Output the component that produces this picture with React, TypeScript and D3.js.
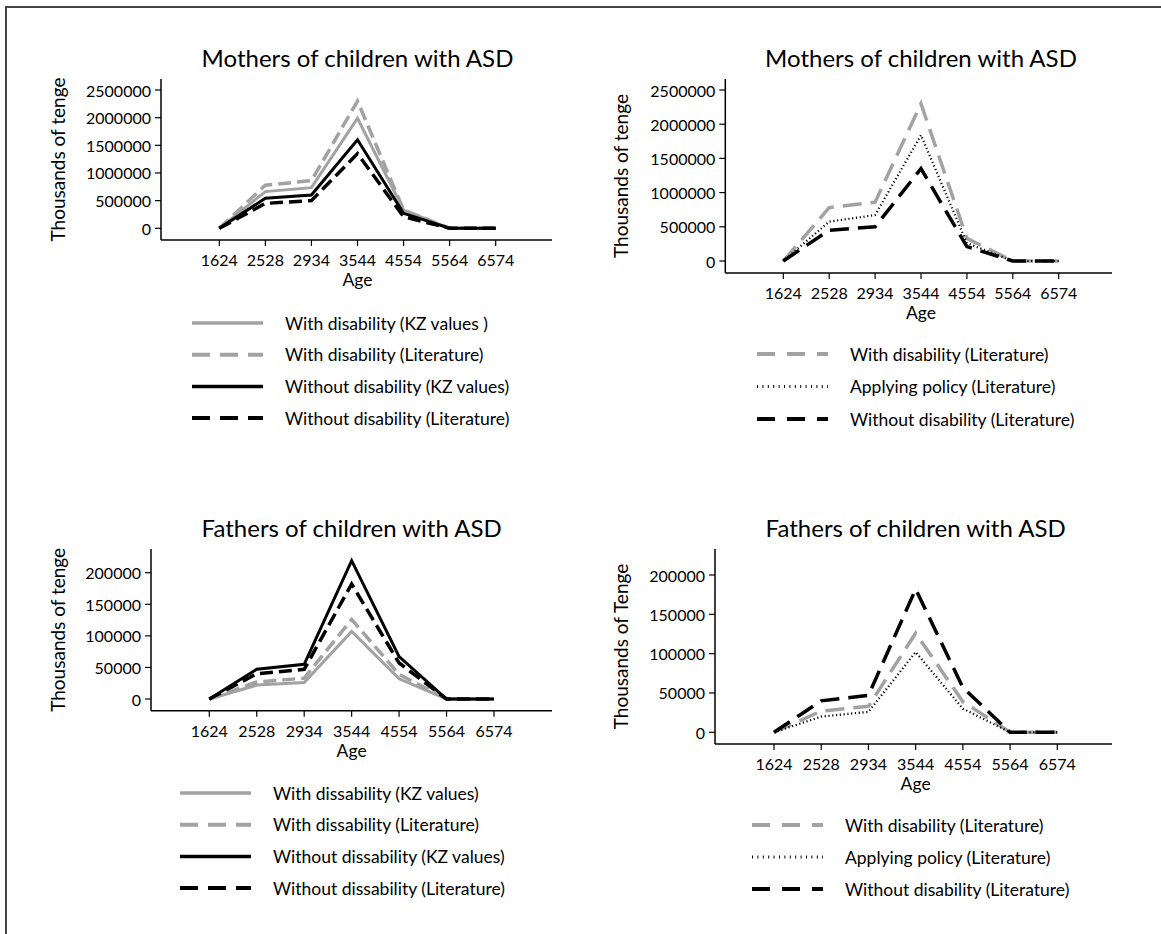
import React from 'react';
import * as d3 from 'd3';

// age groups on the x axis
const ageGroups = ['1624', '2528', '2934', '3544', '4554', '5564', '6574'];

// mothers (thousands of tenge)
const motherWithKZ = [0, 663000, 735000, 1990000, 330000, 0, 0];
const motherWithLit = [0, 780000, 860000, 2300000, 330000, 0, 0];
const motherWithoutKZ = [0, 542000, 602000, 1600000, 271000, 0, 0];
const motherWithoutLit = [0, 450000, 500000, 1350000, 210000, 0, 0];
const motherPolicy = [0, 575000, 672000, 1840000, 262000, 0, 0];

// fathers (thousands of tenge)
const fatherWithKZ = [0, 22000, 26000, 107000, 32000, 0, 0];
const fatherWithLit = [0, 27000, 33000, 126000, 39000, 0, 0];
const fatherWithoutKZ = [0, 47000, 55000, 219000, 67000, 0, 0];
const fatherWithoutLit = [0, 40000, 47000, 182000, 57000, 0, 0];
const fatherPolicy = [0, 20000, 26000, 102000, 30000, 0, 0];

const motherTicks = [0, 500000, 1000000, 1500000, 2000000, 2500000];
const fatherTicks = [0, 50000, 100000, 150000, 200000];

const GRAY = '#a2a2a2';
const FONT = 'Lato, sans-serif';

type Style = { color: string; width: number; kind: 'solid' | 'dash' | 'dot' };

const solidGray: Style = { color: GRAY, width: 3, kind: 'solid' };
const dashGray: Style = { color: GRAY, width: 3.5, kind: 'dash' };
const solidBlack: Style = { color: '#000', width: 3, kind: 'solid' };
const dashBlack: Style = { color: '#000', width: 3.5, kind: 'dash' };
const dotBlack: Style = { color: '#000', width: 2.2, kind: 'dot' };

type Series = { label: string; values: number[]; style: Style };

type PanelProps = {
  title: string;
  yTitle: string;
  yTitleX: number;
  series: Series[];
  ticks: number[];
  axisX: number;
  top: number;
  bottom: number;
  y0: number;
  yMaxPx: number;
  xFirst: number;
  xLast: number;
  xEnd: number;
  plotDash: string;
  legendX: number;
  legendY: number;
  legendStep: number;
  legendDash: string;
};

const dashFor = (s: Style, dash: string) =>
  s.kind === 'dash' ? dash : s.kind === 'dot' ? '1.2 2.6' : undefined;

const Panel = (p: PanelProps) => {
  const x = d3.scaleLinear().domain([0, ageGroups.length - 1]).range([p.xFirst, p.xLast]);
  const y = d3
    .scaleLinear()
    .domain([0, p.ticks[p.ticks.length - 1]])
    .range([p.y0, p.yMaxPx]);
  const line = d3
    .line<number>()
    .x((_, i) => x(i))
    .y((d) => y(d));
  const midX = (p.xFirst + p.xLast) / 2;

  return (
    <g>
      <text x={midX} y={p.top - 12} textAnchor="middle" fontSize={24} fontFamily={FONT}>
        {p.title}
      </text>
      <text
        transform={`translate(${p.yTitleX},${(p.top + p.bottom) / 2}) rotate(-90)`}
        textAnchor="middle"
        dominantBaseline="central"
        fontSize={19}
        fontFamily={FONT}
      >
        {p.yTitle}
      </text>
      <line x1={p.axisX} x2={p.axisX} y1={p.top} y2={p.bottom} stroke="#000" strokeWidth={1.5} />
      <line x1={p.axisX} x2={p.xEnd} y1={p.bottom} y2={p.bottom} stroke="#000" strokeWidth={1.5} />
      {p.ticks.map((t) => (
        <g key={t}>
          <line x1={p.axisX - 6} x2={p.axisX} y1={y(t)} y2={y(t)} stroke="#000" strokeWidth={1.2} />
          <text
            x={p.axisX - 10}
            y={y(t)}
            textAnchor="end"
            dominantBaseline="central"
            fontSize={16}
            fontFamily={FONT}
          >
            {t}
          </text>
        </g>
      ))}
      {ageGroups.map((a, i) => (
        <g key={a}>
          <line x1={x(i)} x2={x(i)} y1={p.bottom} y2={p.bottom + 6} stroke="#000" strokeWidth={1.2} />
          <text x={x(i)} y={p.bottom + 26} textAnchor="middle" fontSize={16} fontFamily={FONT}>
            {a}
          </text>
        </g>
      ))}
      <text x={midX} y={p.bottom + 46} textAnchor="middle" fontSize={17.5} fontFamily={FONT}>
        Age
      </text>
      {p.series.map((s) => (
        <path
          key={s.label}
          d={line(s.values) ?? ''}
          fill="none"
          stroke={s.style.color}
          strokeWidth={s.style.width}
          strokeDasharray={dashFor(s.style, p.plotDash)}
          strokeLinejoin="miter"
        />
      ))}
      {p.series.map((s, i) => {
        const ly = p.legendY + i * p.legendStep;
        return (
          <g key={`lg-${s.label}`}>
            <line
              x1={p.legendX}
              x2={p.legendX + 71}
              y1={ly}
              y2={ly}
              stroke={s.style.color}
              strokeWidth={s.style.kind === 'dot' ? 3 : s.style.width + 0.5}
              strokeDasharray={s.style.kind === 'dash' ? p.legendDash : s.style.kind === 'dot' ? '1 4.4' : undefined}
            />
            <text
              x={p.legendX + 93}
              y={ly}
              dominantBaseline="central"
              fontSize={17.5}
              fontFamily={FONT}
            >
              {s.label}
            </text>
          </g>
        );
      })}
    </g>
  );
};

const App = () => {
  return (
    <svg
      width={1161}
      height={934}
      style={{ position: 'absolute', left: 0, top: 0, background: '#fff' }}
    >
      <rect x={6} y={7} width={1300} height={1100} fill="#fff" stroke="#444" strokeWidth={2} />
      <Panel
        title="Mothers of children with ASD"
        yTitle="Thousands of tenge"
        yTitleX={57}
        series={[
          { label: 'With disability (KZ values )', values: motherWithKZ, style: solidGray },
          { label: 'With disability (Literature)', values: motherWithLit, style: dashGray },
          { label: 'Without disability (KZ values)', values: motherWithoutKZ, style: solidBlack },
          { label: 'Without disability (Literature)', values: motherWithoutLit, style: dashBlack },
        ]}
        ticks={motherTicks}
        axisX={161}
        top={79}
        bottom={240}
        y0={228.3}
        yMaxPx={90}
        xFirst={219.3}
        xLast={495.7}
        xEnd={552}
        plotDash="13 6"
        legendX={192}
        legendY={323}
        legendStep={31.7}
        legendDash="18 10"
      />
      <Panel
        title="Mothers of children with ASD"
        yTitle="Thousands of tenge"
        yTitleX={620}
        series={[
          { label: 'With disability (Literature)', values: motherWithLit, style: dashGray },
          { label: 'Applying policy (Literature)', values: motherPolicy, style: dotBlack },
          { label: 'Without disability (Literature)', values: motherWithoutLit, style: dashBlack },
        ]}
        ticks={motherTicks}
        axisX={725.3}
        top={79}
        bottom={273}
        y0={261}
        yMaxPx={90}
        xFirst={783.3}
        xLast={1058.7}
        xEnd={1112}
        plotDash="19 9"
        legendX={757}
        legendY={354}
        legendStep={32.5}
        legendDash="18 12"
      />
      <Panel
        title="Fathers of children with ASD"
        yTitle="Thousands of tenge"
        yTitleX={57}
        series={[
          { label: 'With dissability (KZ values)', values: fatherWithKZ, style: solidGray },
          { label: 'With dissability (Literature)', values: fatherWithLit, style: dashGray },
          { label: 'Without dissability (KZ values)', values: fatherWithoutKZ, style: solidBlack },
          { label: 'Without dissability (Literature)', values: fatherWithoutLit, style: dashBlack },
        ]}
        ticks={fatherTicks}
        axisX={151}
        top={549}
        bottom={710.7}
        y0={699}
        yMaxPx={572.7}
        xFirst={209.3}
        xLast={494}
        xEnd={552}
        plotDash="13 6"
        legendX={180}
        legendY={793}
        legendStep={31.7}
        legendDash="18 10"
      />
      <Panel
        title="Fathers of children with ASD"
        yTitle="Thousands of Tenge"
        yTitleX={620}
        series={[
          { label: 'With disability (Literature)', values: fatherWithLit, style: dashGray },
          { label: 'Applying policy (Literature)', values: fatherPolicy, style: dotBlack },
          { label: 'Without disability (Literature)', values: fatherWithoutLit, style: dashBlack },
        ]}
        ticks={fatherTicks}
        axisX={715}
        top={549}
        bottom={744}
        y0={732.3}
        yMaxPx={575}
        xFirst={774}
        xLast={1057.3}
        xEnd={1112}
        plotDash="19 9"
        legendX={752}
        legendY={825}
        legendStep={32}
        legendDash="18 12"
      />
    </svg>
  );
};

export default App;
